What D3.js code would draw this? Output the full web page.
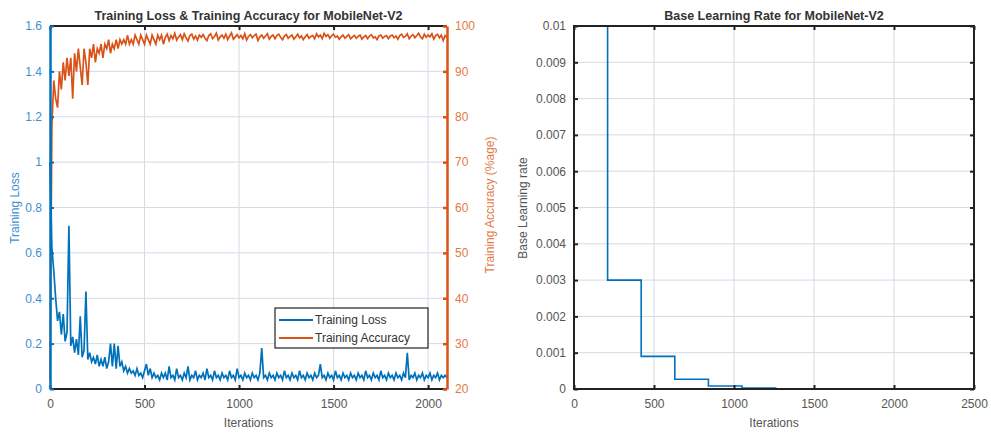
<!DOCTYPE html>
<html>
<head>
<meta charset="utf-8">
<script src="https://cdn.jsdelivr.net/npm/d3@7"></script>
<style>
  body { margin: 0; background: #fff; }
  svg { font-family: "Liberation Sans", Arial, sans-serif; display: block; }
</style>
</head>
<body>
<svg id="chart" width="991" height="434"></svg>
<script>
// iterations sampled every 10 steps (0..2100)
var iterStep = 10;

var trainingLoss = [
  1.00, 0.62, 0.52, 0.40, 0.30, 0.34, 0.24, 0.33, 0.21, 0.25, 0.72, 0.19, 0.23, 0.16, 0.22, 0.15, 0.32, 0.14, 0.17, 0.43, 0.13,
  0.16, 0.12, 0.14, 0.11, 0.15, 0.10, 0.13, 0.10, 0.14, 0.09, 0.12, 0.20, 0.10, 0.20, 0.09, 0.19, 0.10, 0.12, 0.08, 0.10,
  0.07, 0.09, 0.07, 0.08, 0.06, 0.09, 0.06, 0.07, 0.05, 0.08, 0.11, 0.06, 0.09, 0.05, 0.07, 0.05, 0.06, 0.04, 0.07, 0.05,
  0.07, 0.04, 0.10, 0.05, 0.06, 0.04, 0.09, 0.05, 0.06, 0.04, 0.07, 0.05, 0.10, 0.04, 0.06, 0.05, 0.08, 0.04, 0.06, 0.05,
  0.07, 0.04, 0.09, 0.05, 0.06, 0.04, 0.08, 0.05, 0.06, 0.04, 0.07, 0.05, 0.06, 0.04, 0.08, 0.05, 0.06, 0.04, 0.09, 0.05,
  0.06, 0.04, 0.07, 0.05, 0.06, 0.04, 0.07, 0.05, 0.06, 0.04, 0.07, 0.18, 0.05, 0.06, 0.04, 0.07, 0.05, 0.06, 0.04, 0.07,
  0.05, 0.06, 0.04, 0.08, 0.05, 0.06, 0.04, 0.07, 0.05, 0.06, 0.04, 0.08, 0.05, 0.06, 0.04, 0.07, 0.05, 0.06, 0.04, 0.07,
  0.05, 0.06, 0.11, 0.05, 0.06, 0.04, 0.07, 0.05, 0.06, 0.04, 0.08, 0.05, 0.06, 0.04, 0.07, 0.05, 0.06, 0.04, 0.07, 0.05,
  0.06, 0.04, 0.07, 0.05, 0.06, 0.04, 0.08, 0.05, 0.06, 0.04, 0.07, 0.05, 0.06, 0.04, 0.08, 0.05, 0.06, 0.04, 0.07, 0.05,
  0.06, 0.04, 0.07, 0.05, 0.06, 0.04, 0.07, 0.05, 0.16, 0.04, 0.06, 0.05, 0.07, 0.04, 0.06, 0.05, 0.07, 0.04, 0.06, 0.05,
  0.07, 0.04, 0.06, 0.05, 0.07, 0.04, 0.06, 0.05, 0.06, 0.05
];

var trainingAcc = [
  22, 78, 88, 84, 82, 90, 86, 92, 88, 93, 89, 93, 84, 94, 90, 95, 91, 87, 95, 92, 87,
  95, 93, 96, 92, 95, 94, 96, 93, 96, 95, 97, 94, 96, 95, 97, 95, 97, 96, 97, 96,
  98, 96, 97, 96, 98, 97, 96, 98, 97, 96, 98, 97, 96, 98, 97, 96, 98, 97, 98, 96,
  97.5, 98.2, 96.8, 97.9, 97.2, 98.4, 96.9, 97.6, 98.1, 97.0, 98.3, 97.4, 96.7, 97.9, 98.2, 97.1, 97.8, 96.9, 98.0, 97.5,
  98.1, 97.3, 96.8, 97.9, 98.3, 97.2, 97.7, 98.4, 96.9, 97.6, 98.0, 97.3, 98.2, 97.0, 97.8, 98.5, 97.1, 97.6, 98.1, 97.4,
  97.9, 97.2, 98.3, 96.9, 97.7, 98.1, 97.4, 97.9, 98.2, 96.8, 97.6, 98.0, 97.3, 97.8, 98.3, 97.1, 97.7, 98.0, 97.2, 97.9,
  98.2, 97.5, 97.0, 97.8, 98.1, 97.3, 97.7, 98.0, 97.1, 97.6, 98.2, 97.4, 97.8, 97.0, 97.6, 98.1, 97.3, 97.7, 97.9, 97.2,
  98.3, 97.6, 98.0, 97.2, 98.4, 97.7, 98.1, 97.3, 97.9, 98.2, 97.5, 97.8, 97.1, 97.6, 98.0, 97.3, 97.7, 98.1, 97.2, 97.6,
  97.9, 97.3, 97.7, 98.0, 97.1, 97.6, 97.9, 97.2, 97.8, 98.1, 97.4, 97.6, 97.0, 97.8, 98.0, 97.3, 97.7, 97.9, 97.2, 97.8,
  98.0, 97.4, 97.8, 97.1, 97.9, 98.2, 97.5, 97.7, 98.3, 97.2, 97.8, 98.1, 97.4, 97.9, 98.4, 97.6, 97.2, 98.2, 97.5, 98.0,
  97.6, 98.3, 97.1, 97.9, 98.2, 97.4, 98.0, 96.8, 97.9, 97.5
];

// learning rate schedule (piecewise constant)
var lrIter = [0, 210, 420, 630, 840, 1050, 1260, 1470, 1680, 1890, 2100];
var lrVal  = [0.01, 0.003, 0.0009, 0.00027, 0.000081, 0.0000243, 0.0000073, 0.0000022, 0.00000066, 0.0000002, 0.0000002];

var lossTicks = [0, 0.2, 0.4, 0.6, 0.8, 1, 1.2, 1.4, 1.6];
var accTicks = [20, 30, 40, 50, 60, 70, 80, 90, 100];
var iterTicks = [0, 500, 1000, 1500, 2000];
var lrTicks = [0, 0.001, 0.002, 0.003, 0.004, 0.005, 0.006, 0.007, 0.008, 0.009, 0.01];
var lrIterTicks = [0, 500, 1000, 1500, 2000, 2500];

var blue = "#0072BD", orange = "#D95319";
var blueText = "#3d8fd1", orangeText = "#e37a46", grayText = "#555";
var gridColor = "#d3dbe4";

var svg = d3.select("#chart");

//---------- left chart ----------
var L = {left: 50, right: 447, top: 26, bottom: 389};
var x1 = d3.scaleLinear().domain([0, 2100]).range([L.left, L.right]);
var yLoss = d3.scaleLinear().domain([0, 1.6]).range([L.bottom, L.top]);
var yAcc = d3.scaleLinear().domain([20, 100]).range([L.bottom, L.top]);

var g1 = svg.append("g");

//grid
g1.selectAll(".vgrid").data(iterTicks.slice(1)).enter().append("line")
  .attr("x1", d => x1(d)).attr("x2", d => x1(d))
  .attr("y1", L.top).attr("y2", L.bottom)
  .style("stroke", gridColor).style("stroke-width", 1);
g1.selectAll(".hgrid").data(lossTicks.slice(1, -1)).enter().append("line")
  .attr("x1", L.left).attr("x2", L.right)
  .attr("y1", d => yLoss(d)).attr("y2", d => yLoss(d))
  .style("stroke", gridColor).style("stroke-width", 1);

//lines
g1.append("path")
  .datum(trainingAcc)
  .attr("d", d3.line().x((d, i) => x1(i*iterStep)).y(d => yAcc(d)))
  .style("fill", "none").style("stroke", orange).style("stroke-width", 1.7);
g1.append("path")
  .datum(trainingLoss)
  .attr("d", d3.line().x((d, i) => x1(i*iterStep)).y(d => yLoss(d)))
  .style("fill", "none").style("stroke", blue).style("stroke-width", 1.7);

//frame: top and bottom black, left blue, right orange
g1.append("line").attr("x1", L.left).attr("x2", L.right).attr("y1", L.top).attr("y2", L.top)
  .style("stroke", "#222").style("stroke-width", 2);
g1.append("line").attr("x1", L.left).attr("x2", L.right).attr("y1", L.bottom).attr("y2", L.bottom)
  .style("stroke", "#222").style("stroke-width", 2);

//x ticks inward (top and bottom)
g1.append("g").attr("transform", "translate(0," + L.bottom + ")")
  .call(d3.axisBottom(x1).tickValues(iterTicks).tickSizeInner(-4).tickSizeOuter(0).tickPadding(10).tickFormat(d3.format("d")))
  .call(a => a.select(".domain").remove())
  .call(a => a.selectAll(".tick line").style("stroke", "#222").style("stroke-width", 2))
  .call(a => a.selectAll(".tick text").style("fill", grayText).style("font-size", "12px"));
g1.append("g").attr("transform", "translate(0," + L.top + ")")
  .call(d3.axisTop(x1).tickValues(iterTicks).tickSizeInner(-4).tickSizeOuter(0).tickFormat(""))
  .call(a => a.select(".domain").remove())
  .call(a => a.selectAll(".tick line").style("stroke", "#222").style("stroke-width", 2));

//left axis
g1.append("g").attr("transform", "translate(" + L.left + ",0)")
  .call(d3.axisLeft(yLoss).tickValues(lossTicks).tickSizeInner(-4).tickSizeOuter(0).tickPadding(8).tickFormat(d3.format("~g")))
  .call(a => a.select(".domain").style("stroke", blue).style("stroke-width", 2.5))
  .call(a => a.selectAll(".tick line").style("stroke", blue).style("stroke-width", 2))
  .call(a => a.selectAll(".tick text").style("fill", blueText).style("font-size", "12px"));

//right axis
g1.append("g").attr("transform", "translate(" + L.right + ",0)")
  .call(d3.axisRight(yAcc).tickValues(accTicks).tickSizeInner(-4).tickSizeOuter(0).tickPadding(8))
  .call(a => a.select(".domain").style("stroke", orange).style("stroke-width", 2.5))
  .call(a => a.selectAll(".tick line").style("stroke", orange).style("stroke-width", 2.5))
  .call(a => a.selectAll(".tick text").style("fill", orangeText).style("font-size", "12px"));

//titles
g1.append("text").attr("x", (L.left + L.right)/2).attr("y", 20)
  .attr("text-anchor", "middle").style("font-weight", "bold").style("font-size", "12.5px")
  .style("fill", "#333").text("Training Loss & Training Accuracy for MobileNet-V2");
g1.append("text").attr("x", (L.left + L.right)/2).attr("y", 427)
  .attr("text-anchor", "middle").style("font-size", "12px").style("fill", grayText).text("Iterations");
g1.append("text").attr("transform", "translate(19,208) rotate(-90)")
  .attr("text-anchor", "middle").style("font-size", "12px").style("fill", blueText).text("Training Loss");
g1.append("text").attr("transform", "translate(494,205) rotate(-90)")
  .attr("text-anchor", "middle").style("font-size", "12px").style("fill", orangeText).text("Training Accuracy (%age)");

//legend
var leg = g1.append("g").attr("transform", "translate(275,308)");
leg.append("rect").attr("width", 153).attr("height", 40)
  .style("fill", "#fff").style("stroke", "#222").style("stroke-width", 1.2);
var legItems = [["Training Loss", blue], ["Training Accuracy", orange]];
legItems.forEach(function(item, i) {
  leg.append("line").attr("x1", 4).attr("x2", 38).attr("y1", 12 + i*18).attr("y2", 12 + i*18)
    .style("stroke", item[1]).style("stroke-width", 2);
  leg.append("text").attr("x", 40).attr("y", 16 + i*18)
    .style("font-size", "12px").style("fill", "#333").text(item[0]);
});

//---------- right chart ----------
var R = {left: 574, right: 974, top: 26, bottom: 389};
var x2 = d3.scaleLinear().domain([0, 2500]).range([R.left, R.right]);
var yLr = d3.scaleLinear().domain([0, 0.01]).range([R.bottom, R.top]);

var g2 = svg.append("g");

g2.selectAll(".vgrid").data(lrIterTicks.slice(1, -1)).enter().append("line")
  .attr("x1", d => x2(d)).attr("x2", d => x2(d))
  .attr("y1", R.top).attr("y2", R.bottom)
  .style("stroke", gridColor).style("stroke-width", 1);
g2.selectAll(".hgrid").data(lrTicks.slice(1, -1)).enter().append("line")
  .attr("x1", R.left).attr("x2", R.right)
  .attr("y1", d => yLr(d)).attr("y2", d => yLr(d))
  .style("stroke", gridColor).style("stroke-width", 1);

g2.append("path")
  .datum(lrIter.map((d, i) => [d, lrVal[i]]))
  .attr("d", d3.line().curve(d3.curveStepAfter).x(d => x2(d[0])).y(d => yLr(d[1])))
  .style("fill", "none").style("stroke", blue).style("stroke-width", 1.6);

g2.append("g").attr("transform", "translate(0," + R.bottom + ")")
  .call(d3.axisBottom(x2).tickValues(lrIterTicks).tickSizeInner(-4).tickSizeOuter(0).tickPadding(10).tickFormat(d3.format("d")))
  .call(a => a.select(".domain").remove())
  .call(a => a.selectAll(".tick line").style("stroke", "#222").style("stroke-width", 2))
  .call(a => a.selectAll(".tick text").style("fill", grayText).style("font-size", "12px"));
g2.append("g").attr("transform", "translate(0," + R.top + ")")
  .call(d3.axisTop(x2).tickValues(lrIterTicks).tickSizeInner(-4).tickSizeOuter(0).tickFormat(""))
  .call(a => a.select(".domain").remove())
  .call(a => a.selectAll(".tick line").style("stroke", "#222").style("stroke-width", 2));
g2.append("g").attr("transform", "translate(" + R.left + ",0)")
  .call(d3.axisLeft(yLr).tickValues(lrTicks).tickSizeInner(-4).tickSizeOuter(0).tickPadding(8).tickFormat(d3.format("~g")))
  .call(a => a.select(".domain").remove())
  .call(a => a.selectAll(".tick line").style("stroke", "#222").style("stroke-width", 2))
  .call(a => a.selectAll(".tick text").style("fill", grayText).style("font-size", "12px"));
g2.append("g").attr("transform", "translate(" + R.right + ",0)")
  .call(d3.axisRight(yLr).tickValues(lrTicks).tickSizeInner(-4).tickSizeOuter(0).tickFormat(""))
  .call(a => a.select(".domain").remove())
  .call(a => a.selectAll(".tick line").style("stroke", "#222").style("stroke-width", 2));

g2.append("rect").attr("x", R.left).attr("y", R.top)
  .attr("width", R.right - R.left).attr("height", R.bottom - R.top)
  .style("fill", "none").style("stroke", "#222").style("stroke-width", 2);

g2.append("text").attr("x", (R.left + R.right)/2).attr("y", 20)
  .attr("text-anchor", "middle").style("font-weight", "bold").style("font-size", "12.5px")
  .style("fill", "#333").text("Base Learning Rate for MobileNet-V2");
g2.append("text").attr("x", (R.left + R.right)/2).attr("y", 427)
  .attr("text-anchor", "middle").style("font-size", "12px").style("fill", grayText).text("Iterations");
g2.append("text").attr("transform", "translate(527,208) rotate(-90)")
  .attr("text-anchor", "middle").style("font-size", "12px").style("fill", grayText).text("Base Learning rate");
</script>
</body>
</html>
